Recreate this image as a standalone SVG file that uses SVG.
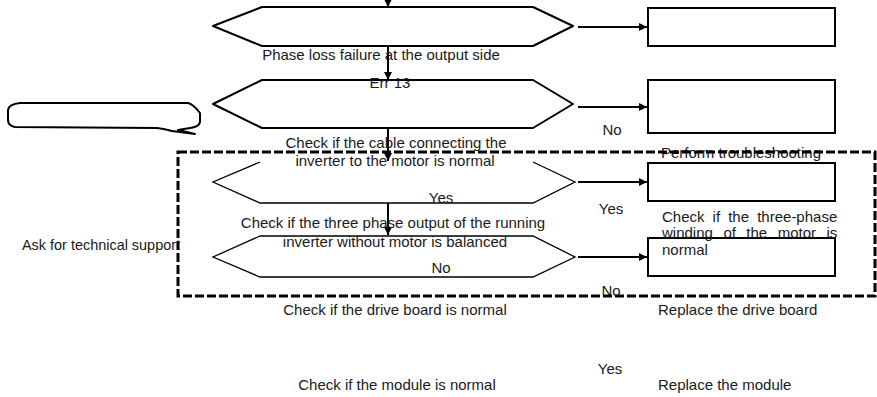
<svg xmlns="http://www.w3.org/2000/svg" width="877" height="397" viewBox="0 0 877 397">
<defs>
<marker id="arr" viewBox="0 0 10 10" refX="10" refY="5" markerWidth="9" markerHeight="8" markerUnits="userSpaceOnUse" orient="auto">
<path d="M0,0 L10,5 L0,10 Z" fill="#000"/>
</marker>
<style>
text{font-family:"Liberation Sans",Arial,sans-serif;font-size:15px;fill:#1a1a1a}
.mid{text-anchor:middle}
.hex{fill:none;stroke:#000;stroke-width:2;stroke-linejoin:round}
.hexthin{fill:none;stroke:#000;stroke-width:1.3}
.box{fill:#fff;stroke:#000;stroke-width:2}
.con{fill:none;stroke:#000;stroke-width:2;marker-end:url(#arr)}
.dash{fill:none;stroke:#000;stroke-width:3;stroke-dasharray:9 3}
</style>
</defs>
<rect width="877" height="397" fill="#fff"/>

<g id="callout">
<path class="hex" d="M20,103 L188,103 Q193,104 200,113 L200,122 Q199,127 190,128 L178,130 L195,134 L172,131 Q165,129 157,128 L15,127 Q8,126 8,120 L8,110 Q9,104 20,103 Z"/>
</g>

<g id="decision1">
<path class="hex" d="M213,26 L262,7 L533,7 L573,26 L533,46 L262,46 Z"/>
</g>
<g id="decision2">
<path class="hex" d="M213,104 L262,80 L533,80 L573,104 L533,128 L262,128 Z"/>
</g>
<g id="decision3">
<path class="hexthin" d="M260,162 L213,182 L260,203 L533,203 L575,182 L533,162"/>
</g>
<g id="decision4">
<path class="hexthin" d="M260,236 L213,257 L260,277 L533,277 L575,257 L533,236 Z"/>
</g>

<g id="box1"><rect class="box" x="648" y="8" width="187" height="38"/></g>
<g id="box2"><rect class="box" x="648" y="80" width="187" height="53"/></g>
<g id="box3"><rect class="box" x="648" y="163" width="187" height="38"/></g>
<g id="box4"><rect class="box" x="648" y="238" width="187" height="38"/></g>

<g id="connectors">
<line class="con" x1="388" y1="0" x2="388" y2="7"/>
<line class="con" x1="388" y1="46" x2="388" y2="80"/>
<line class="con" x1="388" y1="128" x2="388" y2="161"/>
<line class="con" x1="388" y1="203" x2="388" y2="235"/>
<line class="con" x1="578" y1="27" x2="647" y2="27"/>
<line class="con" x1="578" y1="107" x2="647" y2="107"/>
<line class="con" x1="578" y1="182" x2="647" y2="182"/>
<line class="con" x1="578" y1="257" x2="647" y2="257"/>
</g>

<g id="labels">
<text class="mid" x="381" y="60">Phase loss failure at the output side</text>
<text class="mid" x="390" y="88">Err 13</text>
<text class="mid" x="612" y="135">No</text>
<text class="mid" x="396" y="148">Check if the cable connecting the</text>
<text class="mid" x="395" y="166">inverter to the motor is normal</text>
<text class="mid" x="741" y="158">Perform troubleshooting</text>
<text class="mid" x="441" y="203">Yes</text>
<text class="mid" x="611" y="214">Yes</text>
<text class="mid" x="393" y="228">Check if the three phase output of the running</text>
<text class="mid" x="395" y="247">inverter without motor is balanced</text>
<text y="222"><tspan x="662">Check</tspan><tspan x="712.6">if</tspan><tspan x="728.2">the</tspan><tspan x="757.2">three-phase</tspan></text>
<text y="238"><tspan x="662">winding</tspan><tspan x="723.4">of</tspan><tspan x="746.3">the</tspan><tspan x="777.7">motor</tspan><tspan x="826.4">is</tspan></text>
<text x="662" y="255">normal</text>
<text x="22" y="250" textLength="158" lengthAdjust="spacingAndGlyphs">Ask for technical support</text>
<text class="mid" x="441" y="273">No</text>
<text class="mid" x="611" y="296">No</text>
<text class="mid" x="395" y="315">Check if the drive board is normal</text>
<text x="658" y="315">Replace the drive board</text>
<text class="mid" x="610" y="374">Yes</text>
<text class="mid" x="397" y="390">Check if the module is normal</text>
<text x="658" y="390">Replace the module</text>
</g>

<g id="group-frame">
<rect class="dash" x="178" y="152" width="697" height="144"/>
</g>
</svg>
